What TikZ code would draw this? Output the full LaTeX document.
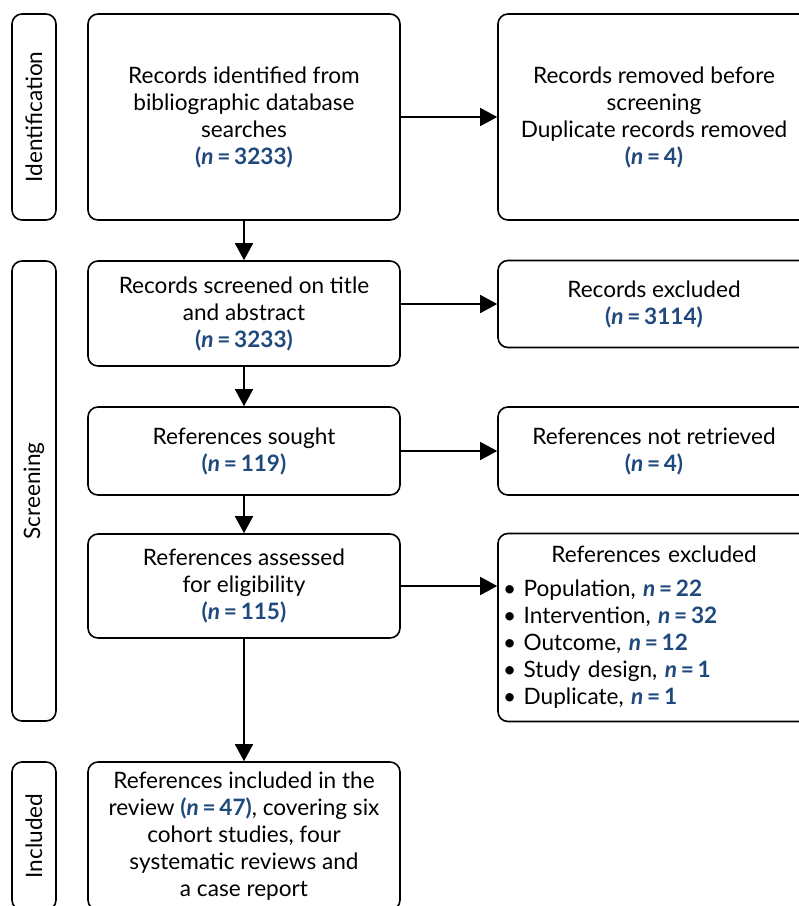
\documentclass[tikz,border=0pt]{standalone}
\usepackage{fontspec}
\setmainfont{Lato}
\usepackage{xcolor}
\usepackage{tikz}
\definecolor{ncolor}{RGB}{31, 73, 125}
\usetikzlibrary{arrows.meta, positioning}
\newcommand{\nval}[1]{{\color{ncolor}\bfseries\textit{n}\,=\,#1}}
\newcommand{\ncount}[1]{{\color{ncolor}\bfseries(\textit{n}\,=\,#1)}}

\begin{document}
\begin{tikzpicture}[
    x=1pt, y=-1pt,
    font=\fontsize{22.6}{27}\selectfont,
    flowbox/.style={rectangle, draw, line width=1.6pt, rounded corners=10pt, minimum width=312pt, align=center, inner sep=4pt},
    stagebox/.style={rectangle, draw, line width=1.6pt, rounded corners=10pt, minimum height=44pt, rotate=90, inner sep=2pt},
    flowarrow/.style={line width=1.6pt, -{Triangle[length=17pt, width=18pt]}}
]
    \clip (0,0) rectangle (799,906);

    % stages
    \node[stagebox, minimum width=206pt] (ident) at (34,117) {Identification};
    \node[stagebox, minimum width=460pt] (screen) at (34,491) {Screening};
    \node[stagebox, minimum width=148pt] (incl) at (34,836) {Included};

    % main column
    \node[flowbox, minimum height=206pt] (search) at (244,117) {
        Records identified from\\
        bibliographic database\\
        searches\\
        \ncount{3233}
    };
    \node[flowbox, minimum height=105pt] (screened) at (244,313.5) {
        Records screened on title\\
        and abstract\\
        \ncount{3233}
    };
    \node[flowbox, minimum height=88pt] (sought) at (244,451) {
        References sought\\
        \ncount{119}
    };
    \node[flowbox, minimum height=104pt] (assessed) at (244,586) {
        References assessed\\
        for eligibility\\
        \ncount{115}
    };
    \node[flowbox, minimum height=148pt] (included) at (244,836) {
        References included in the\\
        review \ncount{47}, covering six\\
        cohort studies, four\\
        systematic reviews and\\
        a case report
    };

    % side column
    \node[flowbox, minimum height=206pt] (removed) at (654,117) {
        Records removed before\\
        screening\\
        Duplicate records removed\\
        \ncount{4}
    };
    \node[flowbox, minimum height=87pt] (recexcl) at (654,304) {
        Records excluded\\
        \ncount{3114}
    };
    \node[flowbox, minimum height=88pt] (notret) at (654,451) {
        References not retrieved\\
        \ncount{4}
    };
    \node[flowbox, minimum height=188pt, text width=302pt, align=left] (refexcl) at (654,627.5) {
        {\centering References excluded\par}\vspace{7pt}
        \textbullet\ Population, \nval{22}\\
        \textbullet\ Intervention, \nval{32}\\
        \textbullet\ Outcome, \nval{12}\\
        \textbullet\ Study design, \nval{1}\\
        \textbullet\ Duplicate, \nval{1}
    };

    % arrows
    \draw[flowarrow] (search) -- (screened);
    \draw[flowarrow] (screened) -- (sought);
    \draw[flowarrow] (sought) -- (assessed);
    \draw[flowarrow] (assessed) -- (included);
    \draw[flowarrow] (search) -- (removed);
    \draw[flowarrow] (screened.east |- recexcl.west) -- (recexcl.west);
    \draw[flowarrow] (sought) -- (notret);
    \draw[flowarrow] (assessed.east) -- (assessed.east -| refexcl.west);
\end{tikzpicture}
\end{document}
